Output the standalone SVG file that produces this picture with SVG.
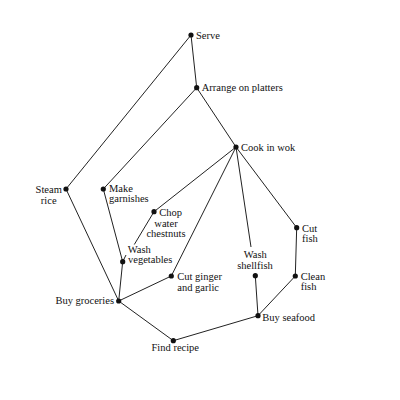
<svg xmlns="http://www.w3.org/2000/svg" width="400" height="400" viewBox="0 0 400 400">
<style>
.e{stroke:#222;stroke-width:1;fill:none}
.d{fill:#111}
text{font-family:"Liberation Serif","Times New Roman",serif;font-size:10.5px;fill:#111}
.m{text-anchor:middle}
.r{text-anchor:end}
</style>
<rect width="400" height="400" fill="#fff"/>
<g id="connectors">
<line class="e" x1="191" y1="35" x2="196.7" y2="87.7"/>
<line class="e" x1="191" y1="35" x2="66" y2="189"/>
<line class="e" x1="196.7" y1="87.7" x2="103.3" y2="189"/>
<line class="e" x1="196.7" y1="87.7" x2="236" y2="147"/>
<line class="e" x1="236" y1="147" x2="154" y2="211.7"/>
<line class="e" x1="236" y1="147" x2="171.3" y2="276"/>
<line class="e" x1="236" y1="147" x2="251" y2="247"/>
<line class="e" x1="236" y1="147" x2="296.7" y2="227.7"/>
<line class="e" x1="154" y1="211.7" x2="134.3" y2="244.5"/>
<line class="e" x1="126" y1="255" x2="122.7" y2="261.7"/>
<line class="e" x1="103.3" y1="189" x2="122.7" y2="261.7"/>
<line class="e" x1="122.7" y1="261.7" x2="118.7" y2="301"/>
<line class="e" x1="66" y1="189" x2="118.7" y2="301"/>
<line class="e" x1="171.3" y1="276" x2="118.7" y2="301"/>
<line class="e" x1="118.7" y1="301" x2="173.3" y2="340.7"/>
<line class="e" x1="173.3" y1="340.7" x2="258" y2="315.7"/>
<line class="e" x1="258" y1="315.7" x2="255.3" y2="275.7"/>
<line class="e" x1="258" y1="315.7" x2="295.3" y2="276"/>
<line class="e" x1="295.3" y1="276" x2="296.7" y2="227.7"/>
</g>
<g id="serve"><circle class="d" cx="191" cy="35" r="2.6"/><text x="196" y="38.5">Serve</text></g>
<g id="arrange"><circle class="d" cx="196.7" cy="87.7" r="2.6"/><text x="201.7" y="91">Arrange on platters</text></g>
<g id="cook"><circle class="d" cx="236" cy="147" r="2.6"/><text x="241" y="150.5">Cook in wok</text></g>
<g id="steam"><circle class="d" cx="66" cy="189" r="2.6"/><text class="m" x="48.7" y="193">Steam</text><text class="m" x="48.7" y="203.5">rice</text></g>
<g id="garnish"><circle class="d" cx="103.3" cy="189" r="2.6"/><text x="109" y="191.5">Make</text><text x="109" y="202">garnishes</text></g>
<g id="chop"><circle class="d" cx="154" cy="211.7" r="2.6"/><text x="159.3" y="216">Chop</text><text class="m" x="166" y="226.5">water</text><text class="m" x="166" y="237">chestnuts</text></g>
<g id="washveg"><circle class="d" cx="122.7" cy="261.7" r="2.6"/><text x="127.7" y="252.8">Wash</text><text x="128" y="263.3">vegetables</text></g>
<g id="ginger"><circle class="d" cx="171.3" cy="276" r="2.6"/><text x="177.3" y="280.3">Cut ginger</text><text x="177.3" y="290.8">and garlic</text></g>
<g id="groceries"><circle class="d" cx="118.7" cy="301" r="2.6"/><text class="r" x="114" y="303.5">Buy groceries</text></g>
<g id="recipe"><circle class="d" cx="173.3" cy="340.7" r="2.6"/><text x="151.5" y="351">Find recipe</text></g>
<g id="seafood"><circle class="d" cx="258" cy="315.7" r="2.6"/><text x="262.3" y="320.5">Buy seafood</text></g>
<g id="shellfish"><circle class="d" cx="255.3" cy="275.7" r="2.6"/><text class="m" x="255.3" y="258.3">Wash</text><text class="m" x="255" y="268.6">shellfish</text></g>
<g id="cleanfish"><circle class="d" cx="295.3" cy="276" r="2.6"/><text x="300.7" y="280">Clean</text><text x="300.7" y="290.4">fish</text></g>
<g id="cutfish"><circle class="d" cx="296.7" cy="227.7" r="2.6"/><text x="302" y="231.7">Cut</text><text x="302" y="242">fish</text></g>
</svg>
